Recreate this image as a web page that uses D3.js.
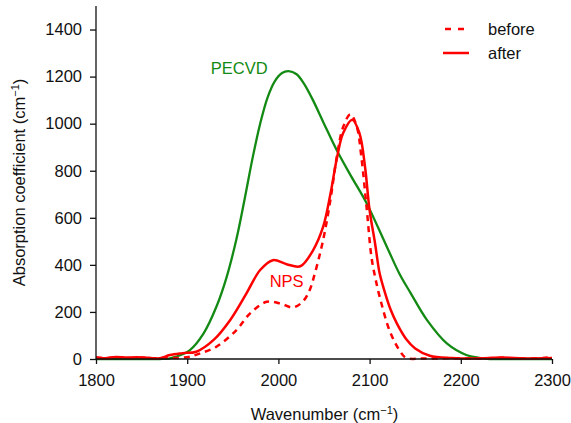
<!DOCTYPE html>
<meta charset="utf-8">
<style>
  body { margin: 0; background: #fff; }
  svg text { font-family: "Liberation Sans", Arial, sans-serif; fill: #111; }
</style>
<script src="https://d3js.org/d3.v7.min.js"></script>
<div id="chart"></div>
<script>
  // PECVD film
  var pecvdX = [1800, 1850, 1870, 1880, 1888, 1903, 1918, 1932, 1943, 1954, 1963, 1972, 1980, 1988, 1996, 2004, 2011, 2020, 2028, 2038, 2050, 2064, 2080, 2097, 2119, 2133, 2145, 2163, 2185, 2206, 2220, 2232, 2260, 2300];
  var pecvdY = [0, 0, 0, 2, 10, 38, 109, 222, 345, 510, 680, 860, 1000, 1110, 1180, 1215, 1223, 1210, 1170, 1099, 1000, 887, 775, 660, 476, 360, 280, 165, 65, 17, 5, 0, 0, 0];

  // NPS after
  var afterX = [1800, 1810, 1822, 1832, 1845, 1858, 1870, 1881, 1895, 1910, 1929, 1947, 1965, 1980, 1994, 2009, 2024, 2038, 2049, 2057, 2064, 2071, 2081, 2089, 2095, 2100, 2106, 2111, 2117, 2123, 2130, 2140, 2150, 2166, 2190, 2220, 2245, 2270, 2300];
  var afterY = [5, 3, 9, 6, 7, 5, 3, 17, 25, 31, 81, 165, 279, 378, 420, 403, 394, 462, 561, 700, 850, 960, 1017, 958, 816, 632, 491, 364, 280, 210, 150, 85, 45, 14, 4, 2, 6, 2, 4];

  // NPS before
  var beforeX = [1800, 1812, 1825, 1838, 1850, 1862, 1875, 1890, 1903, 1915, 1932, 1954, 1969, 1987, 2002, 2016, 2027, 2034, 2040, 2049, 2057, 2064, 2071, 2079, 2086, 2091, 2097, 2102, 2106, 2112, 2122, 2133, 2140, 2160, 2190, 2220, 2245, 2270, 2290, 2300];
  var beforeY = [8, 3, 7, 4, 6, 3, 5, 4, 10, 25, 52, 123, 194, 243, 236, 219, 245, 290, 364, 505, 675, 858, 986, 1040, 986, 858, 632, 434, 349, 250, 120, 35, 5, 2, 3, 2, 5, 2, 4, 9];

  var xTicks = [1800, 1900, 2000, 2100, 2200, 2300];
  var yTicks = [0, 200, 400, 600, 800, 1000, 1200, 1400];

  var margin = {top: 6, right: 19, bottom: 64, left: 96},
      width = 571 - margin.left - margin.right,
      height = 423 - margin.top - margin.bottom;

  var svg = d3.select("#chart").append("svg")
      .attr("width", 571).attr("height", 423)
    .append("g")
      .attr("transform", "translate(" + margin.left + "," + margin.top + ")");

  var x = d3.scaleLinear().domain([1800, 2300]).range([0, width]);
  var y = d3.scaleLinear().domain([0, 1500]).range([height, 0]);

  function zip(xs, ys) { return xs.map(function(v, i) { return [v, ys[i]]; }); }

  var line = d3.line()
      .x(function(d) { return x(d[0]); })
      .y(function(d) { return y(d[1]); })
      .curve(d3.curveCatmullRom.alpha(0.5));

  svg.append("path").datum(zip(pecvdX, pecvdY))
      .attr("fill", "none").attr("stroke", "#138a13").attr("stroke-width", 2.3)
      .attr("d", line);
  svg.append("path").datum(zip(beforeX, beforeY))
      .attr("fill", "none").attr("stroke", "#ff0000").attr("stroke-width", 2.5)
      .attr("stroke-dasharray", "6,5")
      .attr("d", line);
  svg.append("path").datum(zip(afterX, afterY))
      .attr("fill", "none").attr("stroke", "#ff0000").attr("stroke-width", 2.5)
      .attr("d", line);

  // axes
  var xAxis = svg.append("g")
      .attr("transform", "translate(0," + height + ")")
      .call(d3.axisBottom(x).tickValues(xTicks).tickSize(5).tickPadding(10).tickFormat(d3.format("d")));
  var yAxis = svg.append("g")
      .call(d3.axisLeft(y).tickValues(yTicks).tickSize(6).tickPadding(8).tickFormat(d3.format("d")));
  [xAxis, yAxis].forEach(function(a) {
    a.select(".domain").attr("stroke", "#111").attr("stroke-width", 1.3);
    a.selectAll(".tick line").attr("stroke", "#111").attr("stroke-width", 1.3);
    a.selectAll(".tick text").style("font-size", "16.5px").attr("fill", "#111");
  });
  xAxis.select(".domain").attr("d", "M0,0H" + width);
  yAxis.select(".domain").attr("d", "M0," + height + "V0");

  // axis titles
  var xt = svg.append("text")
      .attr("x", width / 2 + 0.5).attr("y", height + 61)
      .attr("text-anchor", "middle").style("font-size", "16.5px");
  xt.append("tspan").text("Wavenumber (cm");
  xt.append("tspan").text("\u22121").attr("dy", -6).style("font-size", "11px");
  xt.append("tspan").text(")").attr("dy", 6);

  var yt = svg.append("text")
      .attr("transform", "translate(-71," + (height / 2) + ") rotate(-90)")
      .attr("text-anchor", "middle").style("font-size", "16.5px");
  yt.append("tspan").text("Absorption coefficient (cm");
  yt.append("tspan").text("\u22121").attr("dy", -6).style("font-size", "11px");
  yt.append("tspan").text(")").attr("dy", 6);

  // curve labels
  svg.append("text").attr("x", x(1957)).attr("y", y(1209))
      .attr("text-anchor", "middle").style("font-size", "16.5px").style("fill", "#138a13").text("PECVD");
  svg.append("text").attr("x", x(2009)).attr("y", y(304))
      .attr("text-anchor", "middle").style("font-size", "16.5px").style("fill", "#ff0000").text("NPS");

  // legend
  var legend = svg.append("g");
  legend.append("line").attr("x1", 349).attr("x2", 368).attr("y1", 23).attr("y2", 23)
      .attr("stroke", "#ff0000").attr("stroke-width", 2.5).attr("stroke-dasharray", "6,7");
  legend.append("line").attr("x1", 347).attr("x2", 373).attr("y1", 47).attr("y2", 47)
      .attr("stroke", "#ff0000").attr("stroke-width", 2.5);
  legend.append("text").attr("x", 392).attr("y", 29).style("font-size", "16.5px").text("before");
  legend.append("text").attr("x", 392).attr("y", 53).style("font-size", "16.5px").text("after");
</script>
